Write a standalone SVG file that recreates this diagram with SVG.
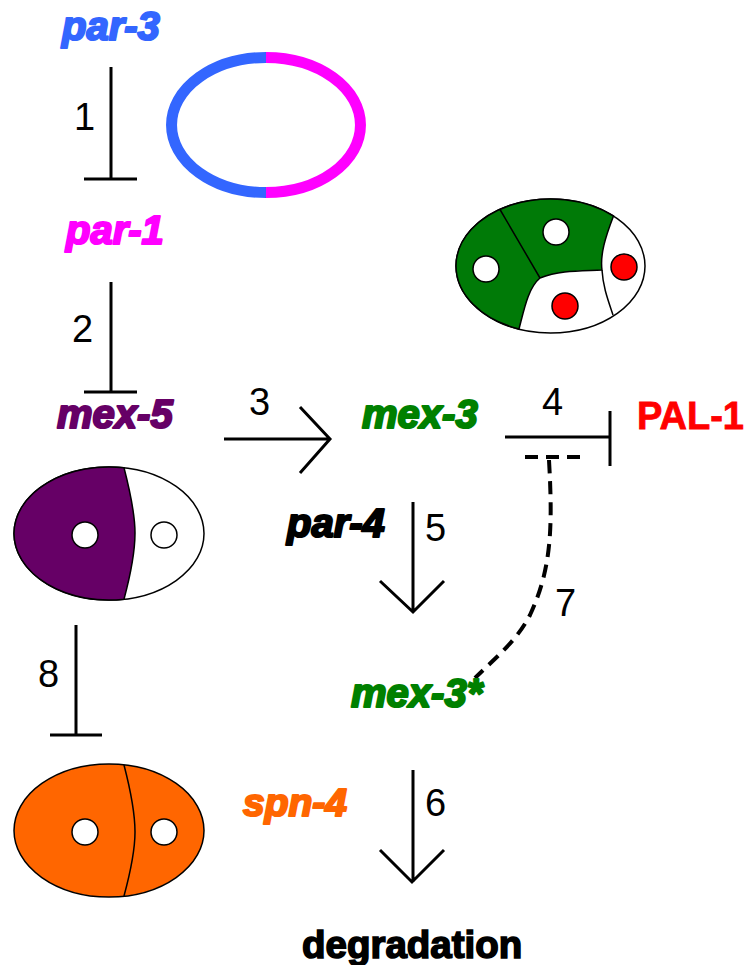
<svg xmlns="http://www.w3.org/2000/svg" width="750" height="965" viewBox="0 0 750 965">
  <defs>
    <style>
      text { font-family: "Liberation Sans", Arial, sans-serif; }
      .gene { font-size: 40px; font-weight: bold; font-style: italic; stroke-width: 2.2; stroke-linejoin: round; }
      .plain { font-size: 38px; font-weight: bold; }
      .num { font-size: 38px; fill: #000; }
      .line { fill: none; stroke: #000; stroke-width: 3; }
      .dash { fill: none; stroke: #000; stroke-width: 4; stroke-dasharray: 13 8; }
      .cell { stroke: #000; stroke-width: 1.5; }
      .edge { fill: none; stroke: #000; stroke-width: 1.5; }
      .nuc { fill: #fff; stroke: #000; stroke-width: 1.5; }
      .nucr { fill: #f00; stroke: #000; stroke-width: 1.5; }
    </style>
  </defs>

  <rect width="750" height="965" fill="#fff"/>

  <g id="connectors">
    <path class="line" d="M111 67V179M84 179H137"/>
    <path class="line" d="M111 282V392M84 392H137"/>
    <path class="line" d="M224 439H330M300 407L330 439L300 473"/>
    <path class="line" d="M505 437H610M610 411V466"/>
    <path class="dash" d="M525 457H581"/>
    <path class="dash" d="M549 460C553 530 551 570 530 615C516 642 495 658 475 678"/>
    <path class="line" d="M413 502V612M380 581L413 612L444 581"/>
    <path class="line" d="M413 770V882M380 850L412 882L444 850"/>
    <path class="line" d="M76 625V735M50 735H102"/>
  </g>

  <g id="ring">
    <path d="M266 57.500A94.500 67.500 0 0 0 266 192.500" fill="none" stroke="#3366ff" stroke-width="11"/>
    <path d="M266 57.500A94.500 67.500 0 0 1 266 192.500" fill="none" stroke="#ff00ff" stroke-width="11"/>
  </g>

  <g id="embryo-green">
    <ellipse class="cell" cx="550.500" cy="266" rx="94.500" ry="67" fill="#fff"/>
    <path class="cell" fill="#007a07" d="M613.500 216C605 238 600 255 602 270C580 271 560 270 540 278C528 288 524 310 519 329A94.500 67 0 0 1 456 266A94.500 67 0 0 1 613.500 216Z"/>
    <path class="edge" d="M500 209.500L540 278M602 270C603 287 608 300 613 315"/>
    <circle class="nuc" cx="486" cy="269" r="13"/>
    <circle class="nuc" cx="556" cy="232" r="13"/>
    <circle class="nucr" cx="624" cy="267" r="13"/>
    <circle class="nucr" cx="565" cy="306" r="13"/>
  </g>

  <g id="embryo-purple">
    <ellipse class="cell" cx="109" cy="533.500" rx="95" ry="66.500" fill="#fff"/>
    <path class="cell" fill="#660066" d="M124 467.800C131 495 135 515 135 533C135 552 131 573 124 599.200A95 66.500 0 0 1 14 533.500A95 66.500 0 0 1 124 467.800Z"/>
    <circle class="nuc" cx="85" cy="535" r="13"/>
    <circle class="nuc" cx="164" cy="535" r="13"/>
  </g>

  <g id="embryo-orange">
    <ellipse class="cell" cx="109" cy="830.500" rx="95" ry="66.500" fill="#ff6600"/>
    <path class="edge" d="M124 765C131 792 135 815 135 832C135 850 131 870 124 896"/>
    <circle class="nuc" cx="85" cy="832" r="13"/>
    <circle class="nuc" cx="164" cy="832" r="13"/>
  </g>

  <g id="label-par-3"><text class="gene" x="62" y="40" fill="#3366ff" stroke="#3366ff">par-3</text></g>
  <g id="label-par-1"><text class="gene" x="66" y="244" fill="#ff00ff" stroke="#ff00ff">par-1</text></g>
  <g id="label-mex-5"><text class="gene" x="57" y="428" fill="#660066" stroke="#660066">mex-5</text></g>
  <g id="label-mex-3"><text class="gene" x="362" y="428" fill="#008000" stroke="#008000">mex-3</text></g>
  <g id="label-pal-1"><text class="plain" x="637" y="429" fill="#f00" stroke="#f00" stroke-width="0.8">PAL-1</text></g>
  <g id="label-par-4"><text class="gene" x="287" y="537" fill="#000" stroke="#000">par-4</text></g>
  <g id="label-mex-3-star"><text class="gene" x="351" y="707" fill="#008000" stroke="#008000">mex-3*</text></g>
  <g id="label-spn-4"><text class="gene" x="243" y="816" fill="#ff6600" stroke="#ff6600" style="font-size:39px">spn-4</text></g>
  <g id="label-degradation"><text class="plain" x="302" y="958" fill="#000" stroke="#000" stroke-width="1.6" style="font-size:38.500px">degradation</text></g>

  <g id="step-numbers">
    <text class="num" x="74" y="130">1</text>
    <text class="num" x="72" y="342">2</text>
    <text class="num" x="249" y="415">3</text>
    <text class="num" x="542" y="415">4</text>
    <text class="num" x="425" y="541">5</text>
    <text class="num" x="425" y="816">6</text>
    <text class="num" x="555" y="616">7</text>
    <text class="num" x="38" y="687">8</text>
  </g>
</svg>
